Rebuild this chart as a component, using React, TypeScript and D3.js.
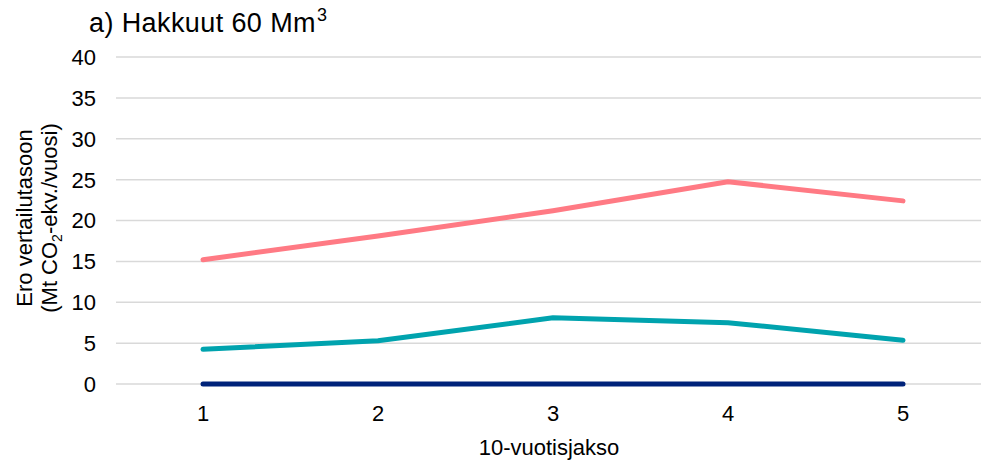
import React from "react";
import * as d3 from "d3";

const categories = ["1", "2", "3", "4", "5"];
const redValues = [15.2, 18.1, 21.2, 24.75, 22.4];
const tealValues = [4.25, 5.3, 8.1, 7.5, 5.35];
const navyValues = [0, 0, 0, 0, 0];
const yTicks = [0, 5, 10, 15, 20, 25, 30, 35, 40];

const W = 981;
const H = 463;
const FONT = "'Liberation Sans', Arial, sans-serif";

export default function App() {
  const x = d3.scaleBand<string>().domain(categories).range([115.5, 990.5]);
  const y = d3.scaleLinear().domain([0, 40]).range([384, 57]);
  const cx = (c: string) => (x(c) as number) + x.bandwidth() / 2;
  const line = d3
    .line<number>()
    .x((_, i) => cx(categories[i]))
    .y((v) => y(v));
  const series = [
    { values: navyValues, color: "#00237A" },
    { values: tealValues, color: "#00A3AE" },
    { values: redValues, color: "#FF7A84" },
  ];
  return (
    <svg
      width={W}
      height={H}
      style={{ position: "absolute", left: 0, top: 0, background: "#fff" }}
      fontFamily={FONT}
    >
      <text x={89} y={32} fontSize={27} fill="#000" letterSpacing={0.4}>
        a) Hakkuut 60 Mm
        <tspan fontSize={18} dy={-11} dx={1}>3</tspan>
      </text>
      {yTicks.map((t) => (
        <g key={t}>
          <line x1={116} x2={981} y1={y(t)} y2={y(t)} stroke="#d9d9d9" strokeWidth={1.5} />
          <text x={96} y={y(t)} dy="0.36em" textAnchor="end" fontSize={22} fill="#000">
            {t}
          </text>
        </g>
      ))}
      {categories.map((c) => (
        <text key={c} x={cx(c)} y={421} textAnchor="middle" fontSize={22} fill="#000">
          {c}
        </text>
      ))}
      <text x={549} y={455} textAnchor="middle" fontSize={22} fill="#000">
        10-vuotisjakso
      </text>
      <g transform="translate(0,218) rotate(-90)">
        <text x={0} y={32} textAnchor="middle" fontSize={22} fill="#000">
          Ero vertailutasoon
        </text>
        <text x={0} y={57} textAnchor="middle" fontSize={22} fill="#000">
          (Mt CO<tspan fontSize={14} dy={5}>2</tspan>
          <tspan dy={-5}>-ekv./vuosi)</tspan>
        </text>
      </g>
      {series.map((s, i) => (
        <path
          key={i}
          d={line(s.values) as string}
          fill="none"
          stroke={s.color}
          strokeWidth={5}
          strokeLinecap="round"
          strokeLinejoin="round"
        />
      ))}
    </svg>
  );
}
